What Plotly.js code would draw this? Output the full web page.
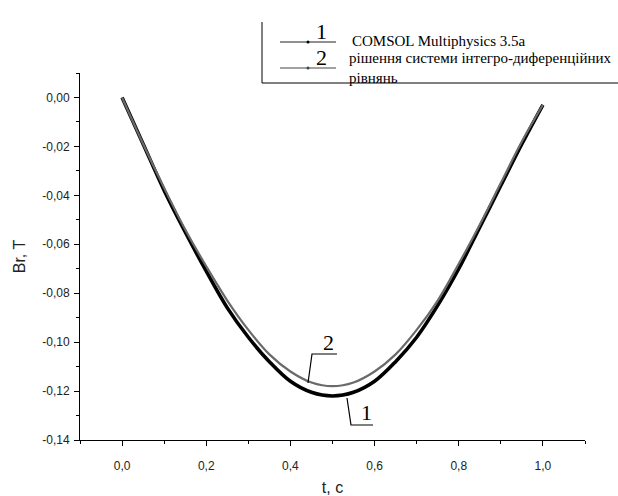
<!DOCTYPE html>
<html>
<head>
<meta charset="utf-8">
<script src="https://cdn.plot.ly/plotly-3.0.1.min.js"></script>
<style>html,body{margin:0;padding:0;background:#fff;}#chart{width:618px;height:496px;}</style>
</head>
<body>
<div id="chart"></div>
<script>
// ---- data ----
const t = [0, 0.05, 0.10, 0.15, 0.20, 0.25, 0.30, 0.35, 0.40, 0.45, 0.50,
           0.55, 0.60, 0.65, 0.70, 0.75, 0.80, 0.85, 0.90, 0.95, 1.00];
const comsol = [0, -0.019, -0.038, -0.055, -0.071, -0.086, -0.098, -0.108, -0.116, -0.1205, -0.122,
                -0.1205, -0.116, -0.108, -0.098, -0.085, -0.070, -0.053, -0.036, -0.019, -0.003];
const integro = [0, -0.019, -0.037, -0.054, -0.069, -0.083, -0.095, -0.105, -0.112, -0.1165, -0.118,
                 -0.1165, -0.112, -0.105, -0.095, -0.083, -0.068, -0.052, -0.035, -0.018, -0.003];
const seriesNames = ["1", "2"];
const legendTexts = ["COMSOL Multiphysics 3.5a", "рішення системи інтегро-диференційних<br>рівнянь"];
const xTickVals = [0, 0.2, 0.4, 0.6, 0.8, 1.0];
const xTickText = ["0,0", "0,2", "0,4", "0,6", "0,8", "1,0"];
const yTickVals = [0, -0.02, -0.04, -0.06, -0.08, -0.10, -0.12, -0.14];
const yTickText = ["0,00", "-0,02", "-0,04", "-0,06", "-0,08", "-0,10", "-0,12", "-0,14"];
const xTitle = "t, c";
const yTitle = "Br, T";

// ---- layout helpers (pixel -> paper) ----
const W = 618, H = 496, ML = 80, MR = 33, MT = 73, MB = 56;
const PW = W - ML - MR, PH = H - MT - MB;
const px = x => (x - ML) / PW;
const py = y => (H - MB - y) / PH;

const serif = "'Liberation Serif', 'DejaVu Serif', serif";
const sans = "'Liberation Sans', Arial, sans-serif";

const traces = [
  {x: t, y: comsol, mode: "lines", name: seriesNames[0],
   line: {color: "#000000", width: 3.6, shape: "spline", smoothing: 1}, showlegend: false},
  {x: t, y: integro, mode: "lines", name: seriesNames[1],
   line: {color: "#6a6a6a", width: 2.2, shape: "spline", smoothing: 1}, showlegend: false}
];

const lineStyle = {color: "#000", width: 1};
const shapes = [
  // legend frame
  {type: "line", xref: "paper", yref: "paper", x0: px(262), x1: px(262), y0: py(22), y1: py(83), line: lineStyle},
  {type: "line", xref: "paper", yref: "paper", x0: px(262), x1: px(618), y0: py(83), y1: py(83), line: lineStyle},
  // legend sample lines
  {type: "line", xref: "paper", yref: "paper", x0: px(280), x1: px(336), y0: py(42), y1: py(42), line: {color: "#222", width: 1}},
  {type: "line", xref: "paper", yref: "paper", x0: px(280), x1: px(336), y0: py(68), y1: py(68), line: {color: "#444", width: 1}},
  {type: "circle", xref: "paper", yref: "paper", x0: px(306.5), x1: px(309.5), y0: py(40.5), y1: py(43.5), fillcolor: "#000", line: {width: 0}},
  {type: "circle", xref: "paper", yref: "paper", x0: px(306.5), x1: px(309.5), y0: py(66.5), y1: py(69.5), fillcolor: "#444", line: {width: 0}},
  // leader for "2"
  {type: "path", xref: "paper", yref: "paper",
   path: `M ${px(308)} ${py(383)} L ${px(312)} ${py(354)} L ${px(337)} ${py(354)}`, line: {color: "#000", width: 1.2}},
  // leader for "1"
  {type: "path", xref: "paper", yref: "paper",
   path: `M ${px(347)} ${py(398)} L ${px(351)} ${py(425)} L ${px(373)} ${py(425)}`, line: {color: "#000", width: 1.2}}
];

const annotations = [
  {xref: "paper", yref: "paper", x: px(321), y: py(31), text: seriesNames[0], showarrow: false,
   font: {family: serif, size: 22, color: "#000"}, xanchor: "center", yanchor: "middle"},
  {xref: "paper", yref: "paper", x: px(321), y: py(58), text: seriesNames[1], showarrow: false,
   font: {family: serif, size: 22, color: "#000"}, xanchor: "center", yanchor: "middle"},
  {xref: "paper", yref: "paper", x: px(350), y: py(41), text: legendTexts[0], showarrow: false,
   font: {family: serif, size: 15, color: "#000"}, xanchor: "left", yanchor: "middle"},
  {xref: "paper", yref: "paper", x: px(347), y: py(48), text: legendTexts[1], showarrow: false, align: "left",
   font: {family: serif, size: 15, color: "#000"}, xanchor: "left", yanchor: "top"},
  {xref: "paper", yref: "paper", x: px(328), y: py(342), text: seriesNames[1], showarrow: false,
   font: {family: serif, size: 22, color: "#000"}, xanchor: "center", yanchor: "middle"},
  {xref: "paper", yref: "paper", x: px(366), y: py(412), text: seriesNames[0], showarrow: false,
   font: {family: serif, size: 22, color: "#000"}, xanchor: "center", yanchor: "middle"}
];

const layout = {
  width: W, height: H,
  margin: {l: ML, r: MR, t: MT, b: MB, pad: 0},
  paper_bgcolor: "#fff", plot_bgcolor: "#fff",
  showlegend: false,
  font: {family: sans, size: 12, color: "#222"},
  xaxis: {
    range: [-0.1, 1.1], showgrid: false, zeroline: false,
    showline: true, linecolor: "#000", linewidth: 1, mirror: false,
    ticks: "outside", ticklen: 5, tickwidth: 1, tickcolor: "#000",
    tickmode: "array", tickvals: xTickVals, ticktext: xTickText,
    ticklabelstandoff: 10,
    tickfont: {family: sans, size: 12, color: "#222"},
    minor: {dtick: 0.1, tick0: -0.1, ticks: "outside", ticklen: 3, tickwidth: 1, tickcolor: "#000", showgrid: false},
    title: {text: xTitle, font: {family: sans, size: 16, color: "#222"}, standoff: 12}
  },
  yaxis: {
    range: [-0.14, 0.01], showgrid: false, zeroline: false,
    showline: true, linecolor: "#000", linewidth: 1, mirror: false,
    ticks: "outside", ticklen: 5, tickwidth: 1, tickcolor: "#000",
    tickmode: "array", tickvals: yTickVals, ticktext: yTickText,
    ticklabelstandoff: 2,
    tickfont: {family: sans, size: 12, color: "#222"},
    minor: {dtick: 0.01, tick0: 0.01, ticks: "outside", ticklen: 3, tickwidth: 1, tickcolor: "#000", showgrid: false},
    title: {text: yTitle, font: {family: sans, size: 16, color: "#222"}, standoff: 12}
  },
  shapes: shapes,
  annotations: annotations
};

Plotly.newPlot("chart", traces, layout, {staticPlot: true, displayModeBar: false});
</script>
</body>
</html>
